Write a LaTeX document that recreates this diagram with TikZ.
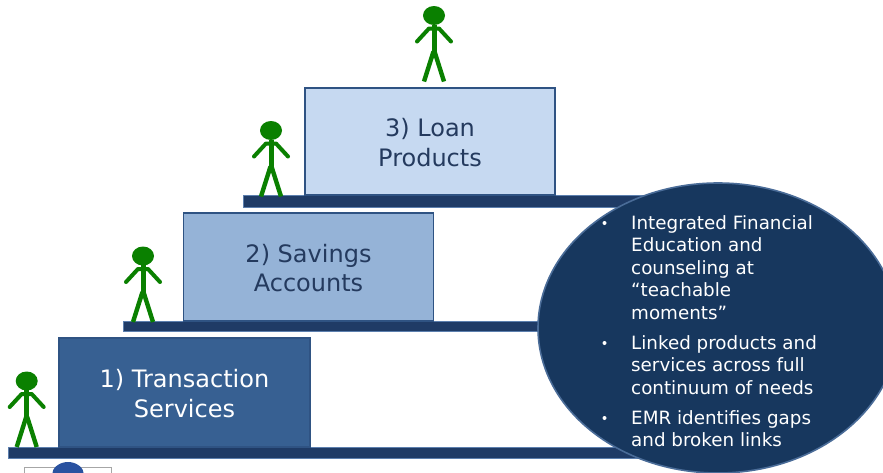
\documentclass[tikz,border=0pt]{standalone}
\usepackage{fontspec}
\setmainfont{DejaVu Sans}
\definecolor{barfill}{HTML}{1F3B66}
\definecolor{barline}{HTML}{5C7FAE}
\definecolor{boxone}{HTML}{376092}
\definecolor{boxtwo}{HTML}{95B3D7}
\definecolor{boxthree}{HTML}{C6D9F1}
\definecolor{boxline}{HTML}{2F5383}
\definecolor{ovalfill}{HTML}{17375E}
\definecolor{ovalline}{HTML}{4A6C98}
\definecolor{figgreen}{HTML}{0A8000}
\definecolor{tiertext}{HTML}{243A5E}
\definecolor{logoblue}{HTML}{2A52A0}
\tikzset{
  shelf/.style={fill=barfill,draw=barline,line width=0.8pt},
  tier/.style={draw=boxline,line width=1.6pt,inner sep=0pt},
  tierlabel/.style={align=center,inner sep=0pt,font=\fontsize{24}{29.5}\selectfont},
  bulletline/.style={anchor=north west,align=left,text=white,inner sep=0pt,font=\fontsize{18.3}{22.5}\selectfont},
  dotmark/.style={fill=white,draw=none,circle,inner sep=0pt,minimum size=4pt},
  limb/.style={draw=figgreen,line width=4.4pt,line join=round},
  walker/.pic={
    \fill[figgreen] (0,0) ellipse[x radius=11,y radius=9.5];
    \draw[limb,line width=5pt] (0,9) -- (0,38);
    \draw[limb] (-0.5,36) -- (-10,66);
    \draw[limb] (0.5,36) -- (10,66);
    \draw[limb,line width=4pt,line cap=round] (-17,26) -- (-5,13) -- (5,13) -- (17,26);
  }
}
\begin{document}
\begin{tikzpicture}[x=1pt,y=-1pt]
\useasboundingbox (0,0) rectangle (883,472);
\begin{scope}
\clip (0,0) rectangle (883,472);
\fill[white] (0,0) rectangle (883,472);
% logo remnant
\draw[draw=gray!70,line width=0.8pt] (24,467.5) rectangle (111,480);
\fill[logoblue] (68,475) ellipse[x radius=16,y radius=13];
% shelves
\path[shelf] (8,447) rectangle (650,458);
\path[shelf] (123,321) rectangle (570,331);
\path[shelf] (243,195) rectangle (670,207);
% tiers
\node[tier,fill=boxone,minimum width=251pt,minimum height=109pt] (t1) at (184.5,392.5) {};
\node[tierlabel,text=white] (l1) at (184.5,393.5) {1) Transaction\\Services};
\node[tier,fill=boxtwo,minimum width=250pt,minimum height=108pt] (t2) at (308.5,267) {};
\node[tierlabel,text=tiertext] (l2) at (308.5,268) {2) Savings\\Accounts};
\node[tier,fill=boxthree,minimum width=250pt,minimum height=107pt] (t3) at (430,141.5) {};
\node[tierlabel,text=tiertext] (l3) at (430,142.5) {3) Loan\\Products};
% people
\pic at (26.7,381) {walker};
\pic at (143,256) {walker};
\pic at (271,130.5) {walker};
\pic at (434,15.5) {walker};
% oval
\fill[ovalfill,draw=ovalline,line width=1.6pt] (718,328) ellipse[x radius=180,y radius=145];
\node[bulletline] (b1) at (631,215) {Integrated Financial\\Education and\\counseling at\\“teachable\\moments”};
\node[bulletline] (b2) at (631,335) {Linked products and\\services across full\\continuum of needs};
\node[bulletline] (b3) at (631,410) {EMR identifies gaps\\and broken links};
\node[dotmark] (d1) at (604.5,223) {};
\node[dotmark] (d2) at (604.5,343) {};
\node[dotmark] (d3) at (604.5,418) {};
\end{scope}
\end{tikzpicture}
\end{document}
